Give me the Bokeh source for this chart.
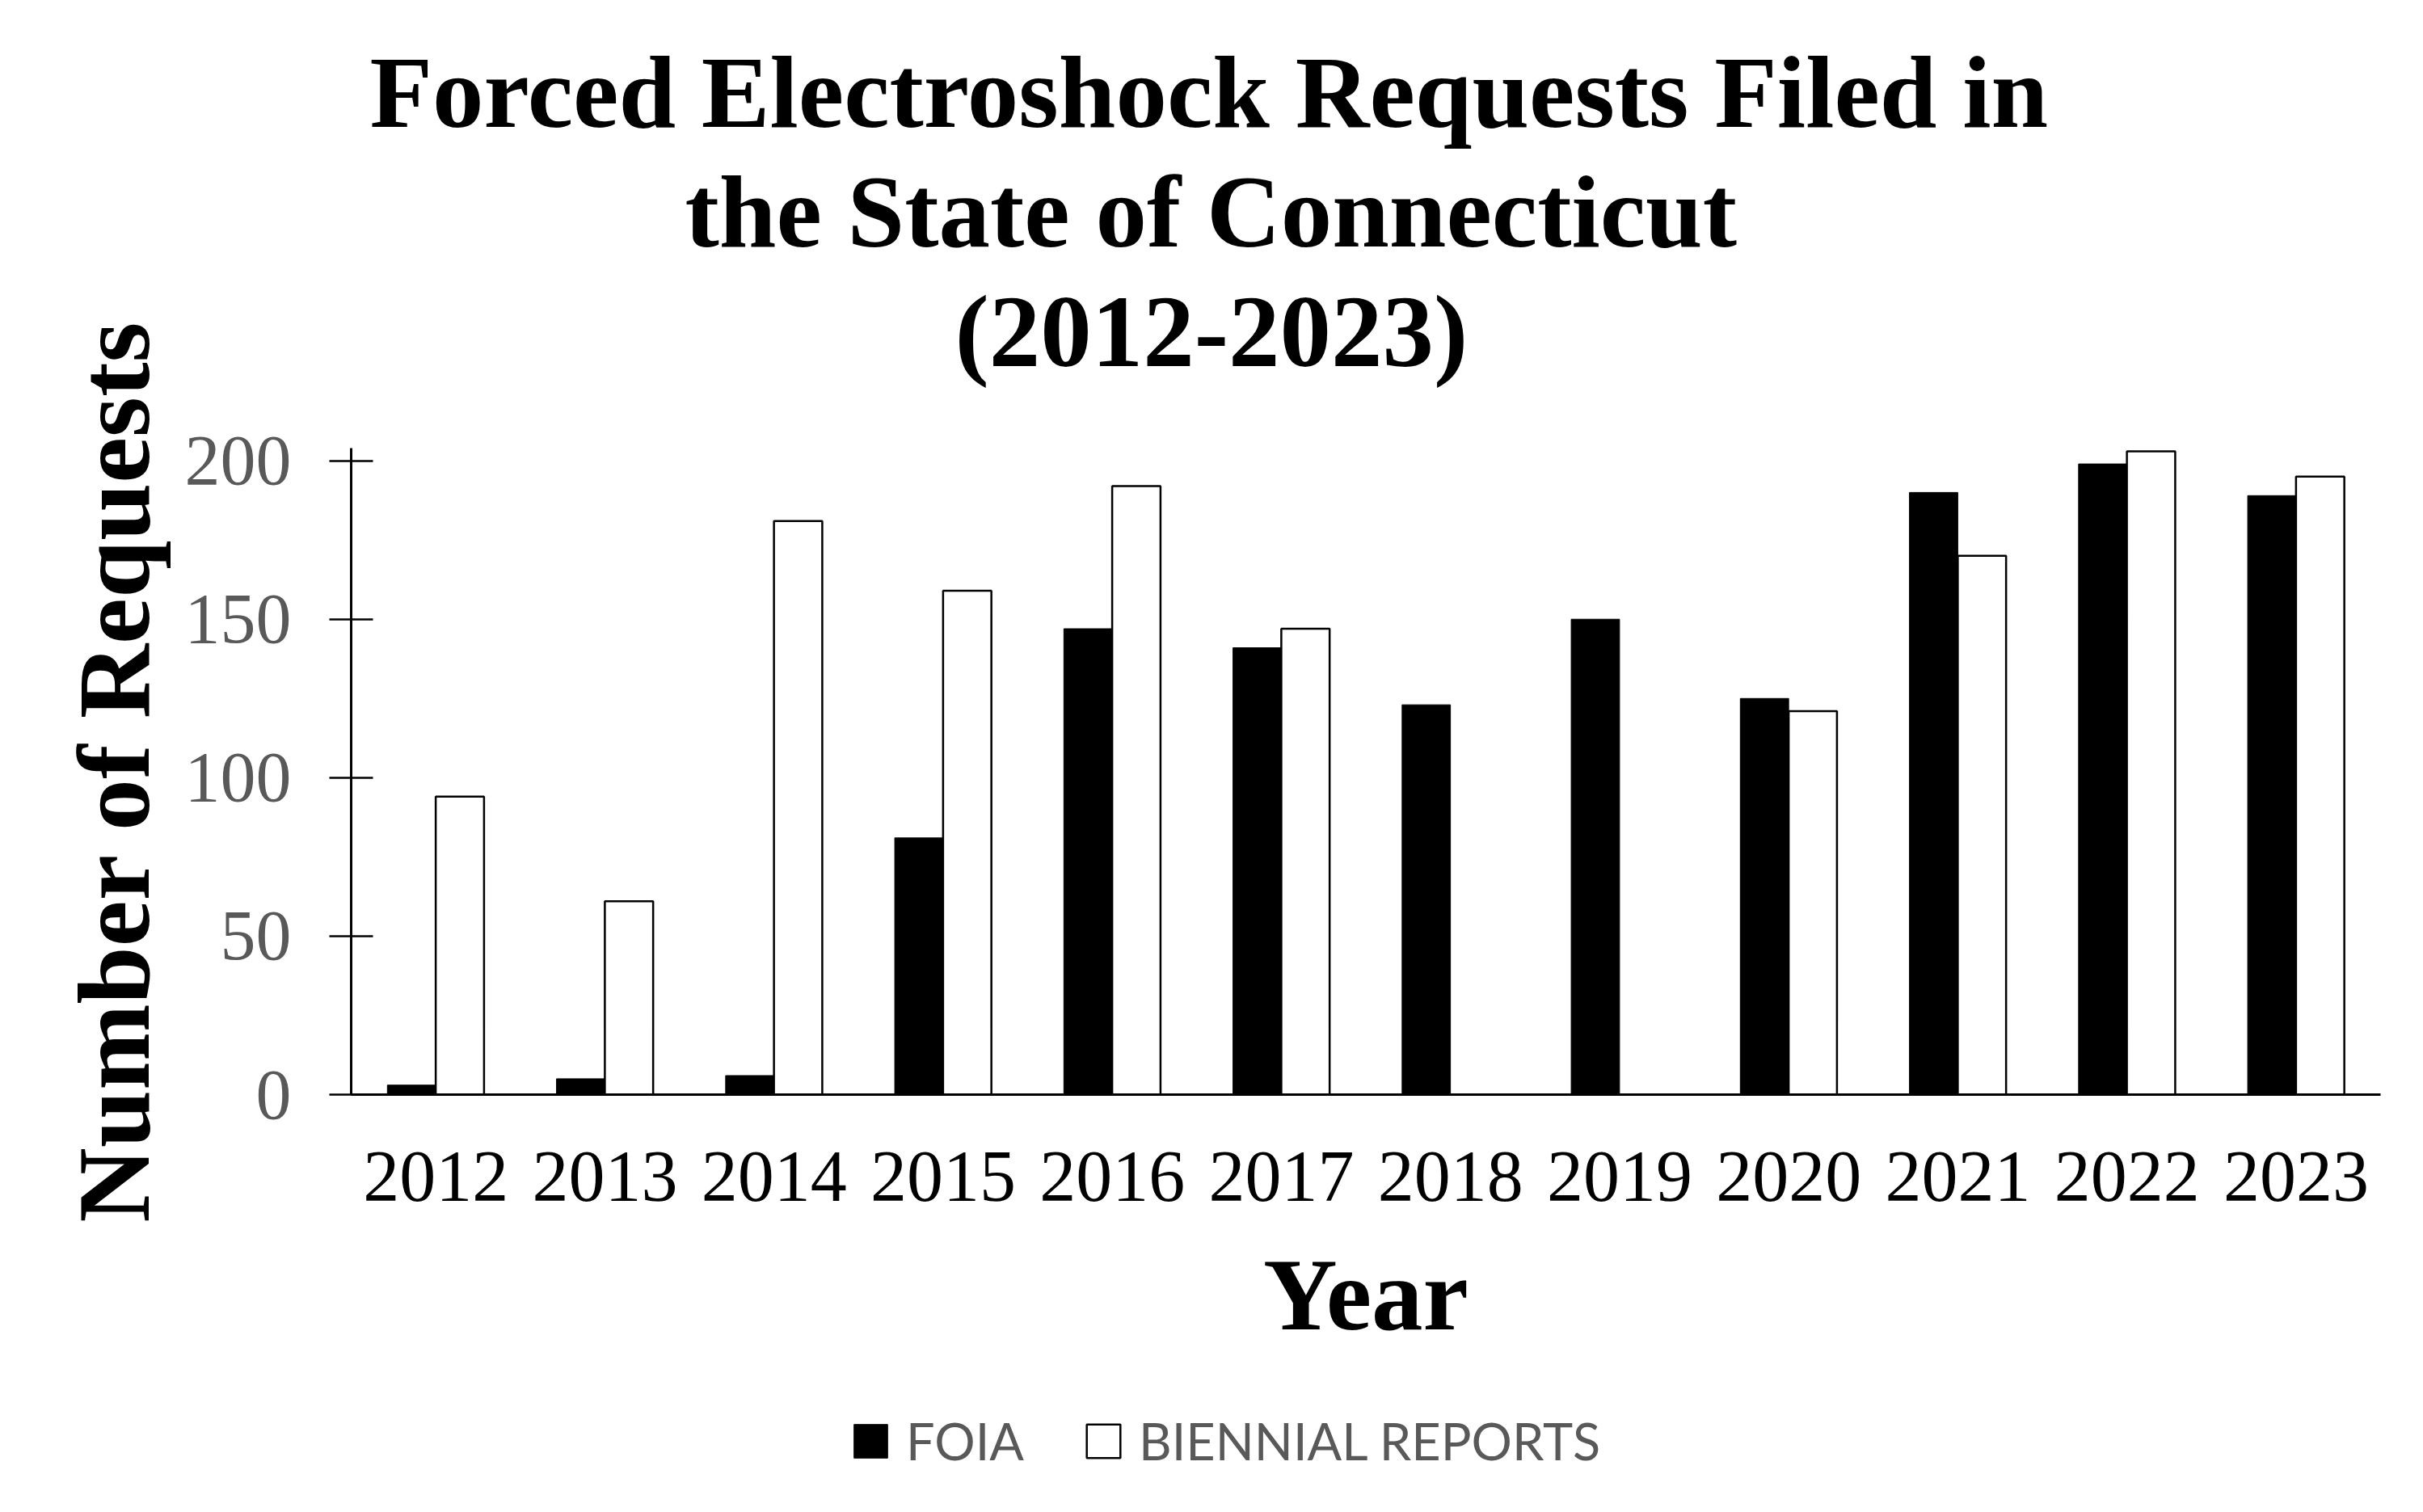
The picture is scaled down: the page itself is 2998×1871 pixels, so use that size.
from bokeh.plotting import figure
from bokeh.layouts import column
from bokeh.models import (ColumnDataSource, FactorRange, Range1d, Legend,
                          LegendItem, FixedTicker, Title)
from bokeh.transform import dodge
from bokeh.embed import file_html
from bokeh.resources import INLINE

# ---- data ----
years = ["2012", "2013", "2014", "2015", "2016", "2017",
         "2018", "2019", "2020", "2021", "2022", "2023"]
foia = [3, 5, 6, 81, 147, 141, 123, 150, 125, 190, 199, 189]
biennial = [94, 61, 181, 159, 192, 147, float("nan"), float("nan"), 121, 170, 203, 195]
y_ticks = [0, 50, 100, 150, 200]
title_lines = ["Forced Electroshock Requests Filed in",
               "the State of Connecticut",
               "(2012-2023)"]
series_names = ["FOIA", "BIENNIAL REPORTS"]

source = ColumnDataSource(dict(year=years, foia=foia, biennial=biennial))

SERIF = "Liberation Serif"
BAR_W = 0.2857
W = 2982

p = figure(x_range=FactorRange(*years), y_range=Range1d(0, 204),
           width=W, height=1720, output_backend="svg", toolbar_location=None,
           min_border_left=434, min_border_right=37,
           min_border_top=554, min_border_bottom=366)

r1 = p.vbar(x=dodge("year", -BAR_W / 2, range=p.x_range), top="foia", width=BAR_W,
            source=source, fill_color="black", line_color="black", line_width=1)
r2 = p.vbar(x=dodge("year", BAR_W / 2, range=p.x_range), top="biennial", width=BAR_W,
            source=source, fill_color="white", line_color="black", line_width=2.5)

p.xgrid.visible = False
p.ygrid.visible = False
p.outline_line_color = None
p.background_fill_color = "white"
p.border_fill_color = "white"

# y axis
ya = p.yaxis[0]
ya.ticker = FixedTicker(ticks=y_ticks)
ya.major_label_text_font = SERIF
ya.major_label_text_font_size = "88px"
ya.major_label_text_color = "#595959"
ya.major_tick_in = 27
ya.major_tick_out = 27
ya.major_tick_line_width = 2.5
ya.major_tick_line_color = "black"
ya.minor_tick_line_color = None
ya.axis_line_width = 3
ya.axis_line_color = "black"
ya.major_label_standoff = 47
ya.axis_label = "Number of Requests"
ya.axis_label_text_font = SERIF
ya.axis_label_text_font_style = "bold"
ya.axis_label_text_font_size = "128px"
ya.axis_label_text_color = "black"
ya.axis_label_standoff = 14

# x axis
xa = p.xaxis[0]
xa.major_tick_in = 0
xa.major_tick_out = 0
xa.axis_line_width = 3
xa.axis_line_color = "black"
xa.major_label_text_font = SERIF
xa.major_label_text_font_size = "90px"
xa.major_label_text_color = "black"
xa.major_label_standoff = 71
xa.axis_label = "Year"
xa.axis_label_text_font = SERIF
xa.axis_label_text_font_style = "bold"
xa.axis_label_text_font_size = "127px"
xa.axis_label_text_color = "black"
xa.axis_label_standoff = 43

# spacer between plot frame and title block
p.add_layout(Title(text=" ", standoff=26, text_font_size="40px"), "above")
# title lines: added closest-to-frame first
for txt, off in reversed(list(zip(title_lines, [23, 413, 747]))):
    p.add_layout(Title(text=txt, align="left", offset=off, standoff=6,
                       text_font=SERIF, text_font_style="bold",
                       text_font_size="127px", text_color="black"), "above")

# legend strip below the chart (its frame is aligned with the chart frame)
pl = figure(width=W, height=135, x_range=Range1d(0, 1), y_range=Range1d(0, 1),
            x_axis_type=None, y_axis_type=None, output_backend="svg",
            toolbar_location=None, min_border=0, outline_line_color=None)
pl.xgrid.visible = False
pl.ygrid.visible = False
key_src = ColumnDataSource(dict(x=[0.5], top=[float("nan")]))
k1 = pl.vbar(x="x", top="top", width=0.1, source=key_src,
             fill_color="black", line_color="black", line_width=1)
k2 = pl.vbar(x="x", top="top", width=0.1, source=key_src,
             fill_color="white", line_color="black", line_width=2.5)
legend = Legend(items=[LegendItem(label=series_names[0], renderers=[k1]),
                       LegendItem(label=series_names[1], renderers=[k2])],
                location=(617, 35), orientation="horizontal",
                border_line_color=None, background_fill_alpha=0,
                padding=0, margin=0, spacing=72, label_standoff=18,
                glyph_width=52, glyph_height=52,
                label_text_font="Lato", label_text_font_size="63px",
                label_text_color="#595959")
pl.add_layout(legend, "center")

open("out.html", "w").write(file_html(column(p, pl), INLINE))
